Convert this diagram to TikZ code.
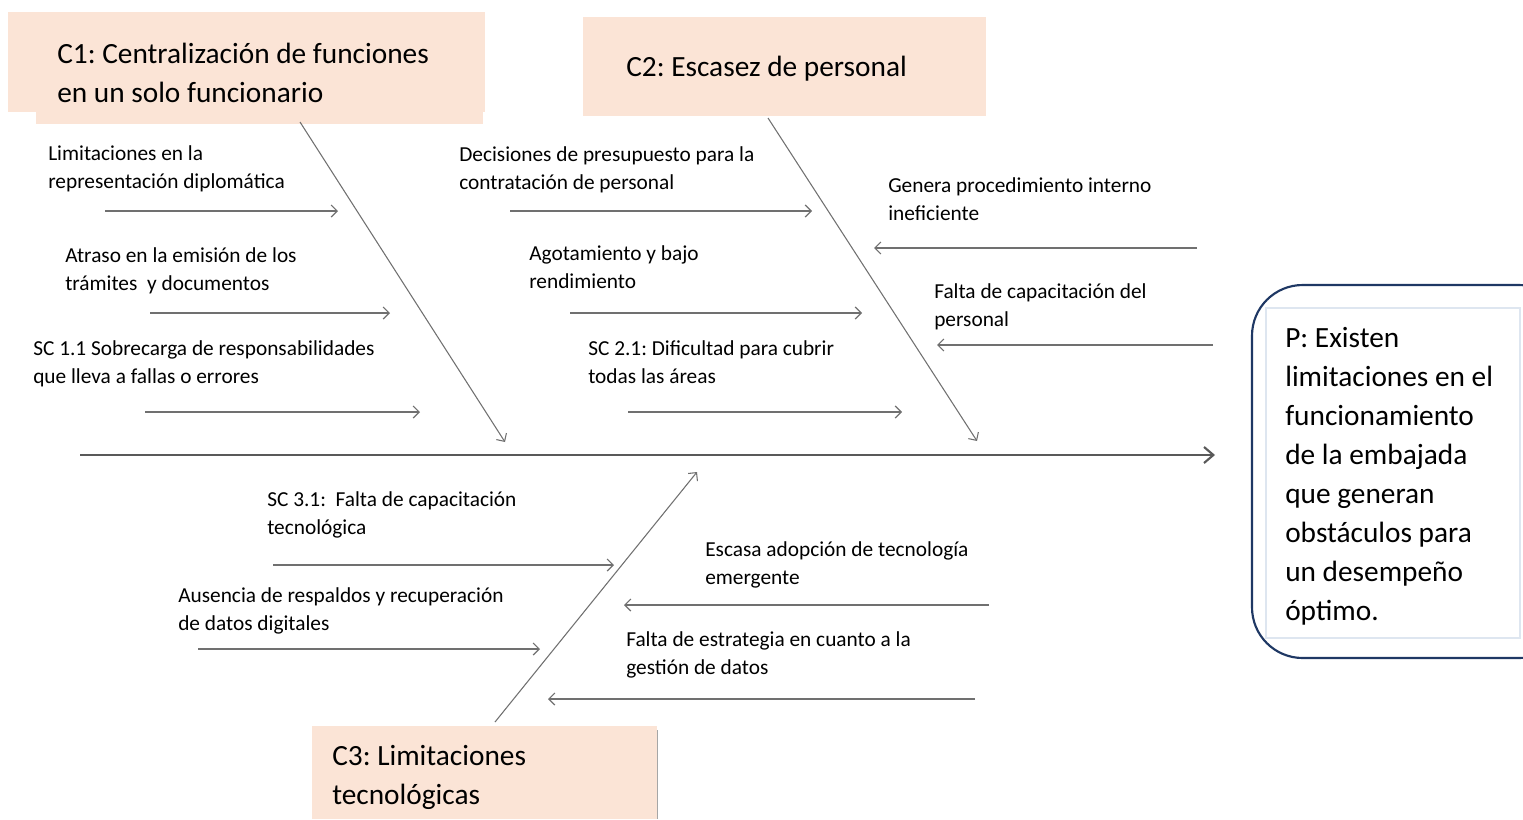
\documentclass[tikz,border=0pt]{standalone}
\usepackage{fontspec}
\setmainfont{Carlito}
\usetikzlibrary{arrows.meta}
\definecolor{peach}{RGB}{251,228,214}
\definecolor{navy}{RGB}{31,56,100}
\definecolor{linegray}{RGB}{112,112,112}
\definecolor{innerline}{RGB}{222,230,240}
\frenchspacing

\tikzset{
  causa/.style={anchor=base west,inner sep=0pt,align=left,font=\fontsize{22}{29.25}\selectfont},
  subcausa/.style={anchor=base west,inner sep=0pt,align=left,font=\fontsize{16}{21}\selectfont},
  flecha/.style={draw=linegray,line width=0.9pt,-{Straight Barb[length=4.5pt,width=9pt]}},
  espina/.style={draw=linegray,line width=0.8pt,-{Straight Barb[length=4.5pt,width=9pt]}},
  eje/.style={draw=black!65,line width=2.2pt,-{Straight Barb[length=7pt,width=12pt,line width=1.6pt]}}
}

\begin{document}
\begin{tikzpicture}[x=0.75pt,y=0.75pt,yscale=-1,xscale=1]
\useasboundingbox (0,0) rectangle (1523,819);

%Shapes: cause boxes
\fill [peach] (8,12) rectangle (485,112);
\fill [peach] (36,112) rectangle (483,124);
\fill [peach] (583,17) rectangle (986,116);
\fill [peach] (312,726) rectangle (657,819);
\draw [black!35,line width=0.6pt] (657,730) -- (657,819);

%Shape: problem box
\begin{scope}
\clip (0,0) rectangle (1523,819);
\draw [navy,line width=1.6pt,rounded corners=38] (1252,285) rectangle (1570,658);
\draw [innerline,line width=1pt] (1266,308) rectangle (1520,638);
\end{scope}

% Text Node (base = last line)
\node (c1) [causa] at (57,102) {C1: Centralización de funciones\\en un solo funcionario};
% Text Node
\node (c2) [causa] at (626,76) {C2: Escasez de personal};
% Text Node
\node (c3) [causa] at (332,804) {C3: Limitaciones\\tecnológicas};
% Text Node
\node (p) [causa] at (1285,620) {P: Existen\\limitaciones en el\\funcionamiento\\de la embajada\\que generan\\obstáculos para\\un desempeño\\óptimo.};

%Coordinates of the spine and bones
\coordinate (ejeA) at (80,455);
\coordinate (ejeB) at (1215,455);
\coordinate (c1a) at (300,122);
\coordinate (c1b) at (505,442);
\coordinate (c2a) at (768,118);
\coordinate (c2b) at (977,441);
\coordinate (c3a) at (495,722);
\coordinate (c3b) at (697,472);

%Straight Lines
\draw [eje] (ejeA) -- (ejeB);
\draw [espina] (c1a) -- (c1b);
\draw [espina] (c2a) -- (c2b);
\draw [espina] (c3a) -- (c3b);

% Text Nodes of C1
\node (s11) [subcausa] at (48,188) {Limitaciones en la\\representación diplomática};
\node (s12) [subcausa] at (65,290) {Atraso en la emisión de los\\trámites~ y documentos};
\node (s13) [subcausa] at (33,383) {SC 1.1 Sobrecarga de responsabilidades\\que lleva a fallas o errores};
\coordinate (a11) at (105,211);  \coordinate (b11) at (338,211);
\coordinate (a12) at (150,313);  \coordinate (b12) at (390,313);
\coordinate (a13) at (145,412);  \coordinate (b13) at (420,412);
\draw [flecha] (a11) -- (b11);
\draw [flecha] (a12) -- (b12);
\draw [flecha] (a13) -- (b13);

% Text Nodes of C2
\node (s21) [subcausa] at (459,189) {Decisiones de presupuesto para la\\contratación de personal};
\node (s22) [subcausa] at (529,288) {Agotamiento y bajo\\rendimiento};
\node (s23) [subcausa] at (588,383) {SC 2.1: Dificultad para cubrir\\todas las áreas};
\node (s24) [subcausa] at (888,220) {Genera procedimiento interno\\ineficiente};
\node (s25) [subcausa] at (934,326) {Falta de capacitación del\\personal};
\coordinate (a21) at (510,211);  \coordinate (b21) at (812,211);
\coordinate (a22) at (570,313);  \coordinate (b22) at (862,313);
\coordinate (a23) at (628,412);  \coordinate (b23) at (902,412);
\coordinate (a24) at (1197,248); \coordinate (b24) at (874,248);
\coordinate (a25) at (1213,345); \coordinate (b25) at (937,345);
\draw [flecha] (a21) -- (b21);
\draw [flecha] (a22) -- (b22);
\draw [flecha] (a23) -- (b23);
\draw [flecha] (a24) -- (b24);
\draw [flecha] (a25) -- (b25);

% Text Nodes of C3
\node (s31) [subcausa] at (267,534) {SC 3.1:~ Falta de capacitación\\tecnológica};
\node (s32) [subcausa] at (178,630) {Ausencia de respaldos y recuperación\\de datos digitales};
\node (s33) [subcausa] at (705,584) {Escasa adopción de tecnología\\emergente};
\node (s34) [subcausa] at (626,674) {Falta de estrategia en cuanto a la\\gestión de datos};
\coordinate (a31) at (273,565);  \coordinate (b31) at (614,565);
\coordinate (a32) at (198,649);  \coordinate (b32) at (540,649);
\coordinate (a33) at (989,605);  \coordinate (b33) at (624,605);
\coordinate (a34) at (975,699);  \coordinate (b34) at (548,699);
\draw [flecha] (a31) -- (b31);
\draw [flecha] (a32) -- (b32);
\draw [flecha] (a33) -- (b33);
\draw [flecha] (a34) -- (b34);

\end{tikzpicture}
\end{document}
